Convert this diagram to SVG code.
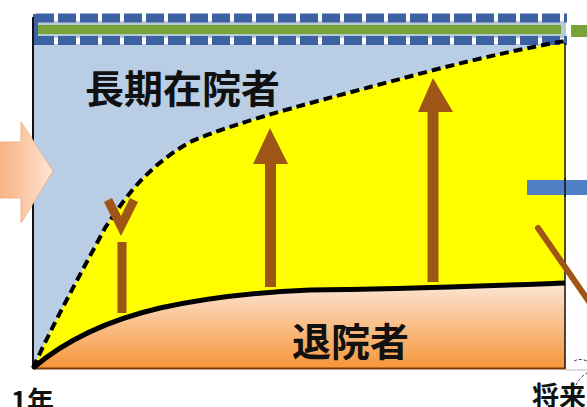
<svg xmlns="http://www.w3.org/2000/svg" width="587" height="407" viewBox="0 0 587 407">
  <defs>
    <linearGradient id="orangeGrad" x1="0" y1="283" x2="0" y2="368" gradientUnits="userSpaceOnUse">
      <stop offset="0" stop-color="#FCE6D6"/>
      <stop offset="1" stop-color="#F6963A"/>
    </linearGradient>
    <linearGradient id="leftArrowGrad" x1="0" y1="0" x2="1" y2="0">
      <stop offset="0" stop-color="#F9B283"/>
      <stop offset="1" stop-color="#FDE5D5"/>
    </linearGradient>
  </defs>
  <style>
    .lbl { font-family: "Noto Sans CJK JP", "Noto Sans", sans-serif; font-weight: bold; fill: #111; }
    .brown { fill: #9E5516; }
    .brownline { stroke: #9E5516; fill: none; }
    .bluedash { stroke: #3D62A4; stroke-width: 9; stroke-dasharray: 18 4; fill: none; }
  </style>
  <rect width="587" height="407" fill="#FFFFFF"/>

  <g id="chart-background">
    <rect x="33" y="44" width="532" height="324" fill="#B9CDE5"/>
  </g>

  <g id="long-stay-area">
    <path d="M33,368 C55,320 80,275 105,228 C125,198 145,168 190,142 C240,120 330,98 430,71 C480,58 530,47 565,41 L565,368 Z" fill="#FFFF00"/>
  </g>

  <g id="discharged-area">
    <path d="M33,368 C60,345 100,322 160,308 C210,297 260,292 310,290 C400,289 480,286 565,283 L565,368 Z" fill="url(#orangeGrad)"/>
  </g>

  <g id="top-bar">
    <rect x="36" y="21" width="530" height="17" fill="#B7C9D6"/>
    <rect x="38" y="25" width="523" height="9" fill="#77A33A"/>
    <line class="bluedash" x1="36" y1="18" x2="567" y2="18"/>
    <line class="bluedash" x1="36" y1="40.5" x2="567" y2="40.5"/>
    <rect x="33" y="14" width="5" height="31" fill="#3D62A4"/>
    <rect x="571" y="25" width="16" height="12" fill="#77A33A"/>
  </g>

  <g id="connectors">
    <line x1="33" y1="17" x2="33" y2="369" stroke="#111" stroke-width="2"/>
    <line x1="565" y1="43" x2="565" y2="369" stroke="#111" stroke-width="1.5"/>
    <line x1="33" y1="368.5" x2="565" y2="368.5" stroke="#7A3A10" stroke-width="2"/>
    <line x1="565" y1="370" x2="587" y2="370" stroke="#BBBBBB" stroke-width="1"/>
    <path d="M33,368 C55,320 80,275 105,228 C125,198 145,168 190,142 C240,120 330,98 430,71 C480,58 530,47 565,41" fill="none" stroke="#000" stroke-width="4" stroke-dasharray="9 5"/>
    <path d="M33,368 C60,345 100,322 160,308 C210,297 260,292 310,290 C400,289 480,286 565,283" fill="none" stroke="#000" stroke-width="5"/>
    <path d="M574,361 Q580,358 587,361" fill="none" stroke="#333" stroke-width="1" stroke-dasharray="3 2"/>
    <path d="M574,390 Q578,378 587,373" fill="none" stroke="#333" stroke-width="1" stroke-dasharray="3 2"/>
  </g>

  <g id="arrow-1">
    <polyline class="brownline" points="108,200 121,226 134,200" stroke-width="9" stroke-linejoin="miter"/>
    <rect class="brown" x="117.5" y="242" width="9" height="71"/>
  </g>

  <g id="arrow-2">
    <polygon class="brown" points="270,128 288,164 276,164 276,287 265,287 265,164 253,164"/>
  </g>

  <g id="arrow-3">
    <polygon class="brown" points="433,78 453,112 438.5,112 438.5,282 427.5,282 427.5,112 418,112"/>
  </g>

  <g id="right-elements">
    <rect x="527" y="180" width="60" height="15" fill="#4F7FC4"/>
    <line x1="565" y1="178" x2="565" y2="197" stroke="#111" stroke-width="1.5"/>
    <line class="brownline" x1="538" y1="228" x2="590" y2="303" stroke-width="6" stroke-linecap="round"/>
  </g>

  <g id="input-arrow">
    <polygon points="0,142 21,142 21,122 53,171 21,223 21,198 0,198" fill="url(#leftArrowGrad)" stroke="#F2B38A" stroke-width="1"/>
  </g>

  <g id="labels">
    <text class="lbl" x="85" y="103" font-size="39">長期在院者</text>
    <text class="lbl" x="292" y="356" font-size="39">退院者</text>
    <text class="lbl" x="11" y="411" font-size="27">1年</text>
    <text class="lbl" x="532" y="406" font-size="27">将来</text>
  </g>
</svg>
